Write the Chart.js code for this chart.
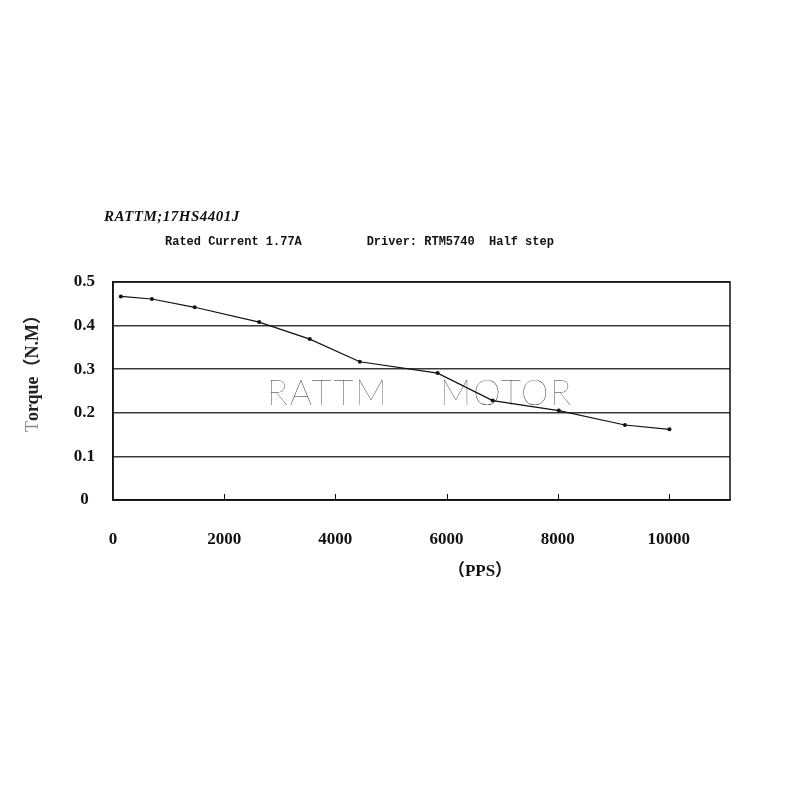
<!DOCTYPE html>
<html lang="en">
<head>
  <meta charset="UTF-8">
  <title>RATTM 17HS4401J</title>
  <script src="https://cdn.jsdelivr.net/npm/chart.js@4.4.0/dist/chart.umd.min.js"></script>
  <style>
    html, body { margin: 0; padding: 0; background: #fff; }
  </style>
</head>
<body>
  <canvas id="chart" width="800" height="800"></canvas>

  <script>
    // torque curve
    const speeds = [140, 700, 1470, 2630, 3540, 4440, 5840, 6830, 8020, 9210, 10010];
    const torque = [0.467, 0.461, 0.442, 0.408, 0.369, 0.317, 0.291, 0.228, 0.205, 0.172, 0.162];
    const xTicks = [0, 2000, 4000, 6000, 8000, 10000];
    const yTicks = [0, 0.1, 0.2, 0.3, 0.4, 0.5];

    const serif = '"Liberation Serif", "Noto Sans CJK SC", serif';

    // frame, small inner ticks and the loose texts around the plot
    const decor = {
      id: 'decor',
      beforeDatasetsDraw(chart) {
        const ctx = chart.ctx;
        ctx.save();
        ctx.font = '200 35px Lato';
        ctx.letterSpacing = '2px';
        ctx.fillStyle = '#222';
        ctx.textBaseline = 'alphabetic';
        ctx.fillText('RATTM', 267, 405);
        ctx.fillText('MOTOR', 440, 405);
        ctx.restore();
      },
      afterDraw(chart) {
        const ctx = chart.ctx;
        const a = chart.chartArea;
        const x = chart.scales.x;
        ctx.save();
        ctx.strokeStyle = '#111';
        ctx.lineWidth = 1.5;
        ctx.strokeRect(a.left, a.top, a.right - a.left, a.bottom - a.top);
        ctx.lineWidth = 1;
        ctx.beginPath();
        for (const v of xTicks.slice(1)) {
          const px = Math.round(x.getPixelForValue(v)) + 0.5;
          ctx.moveTo(px, a.bottom);
          ctx.lineTo(px, a.bottom - 6);
        }
        ctx.stroke();

        ctx.fillStyle = '#111';
        ctx.textBaseline = 'alphabetic';
        ctx.font = 'italic bold 15px ' + serif;
        ctx.letterSpacing = '0.5px';
        ctx.fillText('RATTM;17HS4401J', 104, 221);
        ctx.letterSpacing = '0px';
        ctx.font = 'bold 12px "Liberation Mono", monospace';
        ctx.fillText('Rated Current 1.77A         Driver: RTM5740  Half step', 165, 245);

        ctx.font = 'bold 17px ' + serif;
        ctx.textAlign = 'center';
        ctx.fillText('（PPS）', 480, 576);

        // y title, the T is grey in the original
        ctx.translate(33, 369);
        ctx.rotate(-Math.PI / 2);
        ctx.textAlign = 'left';
        ctx.textBaseline = 'middle';
        ctx.font = '18px ' + serif;
        const wT = ctx.measureText('T').width;
        ctx.font = 'bold 18px ' + serif;
        const rest = 'orque（N.M）';
        const w = wT + ctx.measureText(rest).width;
        ctx.fillStyle = '#888';
        ctx.font = '18px ' + serif;
        ctx.fillText('T', -w / 2, 0);
        ctx.fillStyle = '#222';
        ctx.font = 'bold 18px ' + serif;
        ctx.fillText(rest, -w / 2 + wT, 0);
        ctx.restore();
      }
    };

    const ctx = document.getElementById('chart').getContext('2d');
    const myChart = new Chart(ctx, {
      type: 'line',
      data: {
        datasets: [{
          label: 'Torque',
          data: speeds.map((s, i) => ({ x: s, y: torque[i] })),
          borderColor: '#111',
          borderWidth: 1.2,
          backgroundColor: '#111',
          pointRadius: 2,
          pointBorderWidth: 0,
          tension: 0,
          fill: false
        }]
      },
      options: {
        responsive: false,
        animation: false,
        layout: { padding: { left: 0, top: 282, right: 70, bottom: 0 } },
        plugins: {
          legend: { display: false },
          tooltip: { enabled: false }
        },
        scales: {
          x: {
            type: 'linear',
            min: 0,
            max: 11100,
            afterBuildTicks: s => { s.ticks = xTicks.map(v => ({ value: v })); },
            afterFit: s => { s.height = 300; },
            grid: { display: false },
            border: { display: true, color: '#111', width: 1.5 },
            ticks: {
              padding: 21,
              color: '#111',
              font: { family: serif, size: 17, weight: 'bold' },
              maxRotation: 0,
              callback: v => String(v)
            }
          },
          y: {
            min: 0,
            max: 0.5,
            afterBuildTicks: s => { s.ticks = yTicks.map(v => ({ value: v })); },
            afterFit: s => { s.width = 113; },
            grid: { color: '#3a3a3a', lineWidth: 1.5, drawTicks: false },
            border: { display: true, color: '#111', width: 1.5 },
            ticks: {
              padding: 18,
              crossAlign: 'center',
              color: '#111',
              font: { family: serif, size: 17, weight: 'bold' },
              callback: v => v === 0 ? '0' : v.toFixed(1)
            }
          }
        }
      },
      plugins: [decor]
    });
  </script>
</body>
</html>
